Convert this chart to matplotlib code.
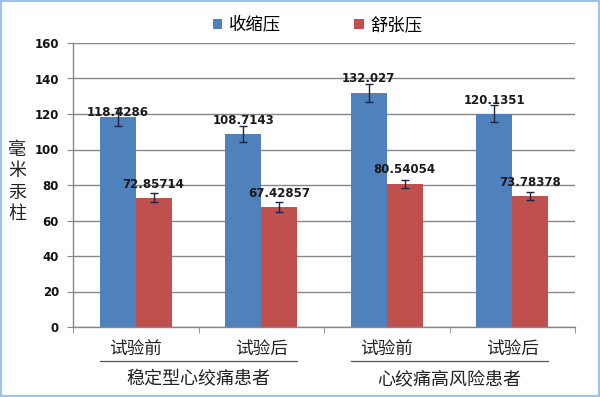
import matplotlib
matplotlib.use('Agg')
import matplotlib.pyplot as plt
import matplotlib.transforms as mtransforms
from matplotlib.patches import Patch, Rectangle
import numpy as np

# Data
categories = ['试验前', '试验后', '试验前', '试验后']
groups = ['稳定型心绞痛患者', '心绞痛高风险患者']
series_names = ['收缩压', '舒张压']
systolic = [118.4286, 108.7143, 132.027, 120.1351]
diastolic = [72.85714, 67.42857, 80.54054, 73.78378]
systolic_err = [5.0, 4.5, 5.0, 4.7]
diastolic_err = [2.7, 2.8, 2.3, 2.3]
systolic_labels = ['118.4286', '108.7143', '132.027', '120.1351']
diastolic_labels = ['72.85714', '67.42857', '80.54054', '73.78378']

# label offsets above the bar value (layout only)
sys_off = [2.6, 7.6, 7.7, 7.5]
dia_off = [7.7, 8.0, 8.0, 7.6]

cjk = ['Noto Sans CJK SC', 'DejaVu Sans']
blue = '#4F81BD'
red = '#C0504D'
grid_c = '#878787'

fig = plt.figure(figsize=(6.0, 3.97), dpi=100)
ax = fig.add_axes([73/600, 1-327/397, 502/600, 284/397])

x = np.arange(len(categories))
w = 0.2857
ax.bar(x - w/2, systolic, w, color=blue, zorder=2)
ax.bar(x + w/2, diastolic, w, color=red, zorder=2)
ax.errorbar(x - w/2, systolic, yerr=systolic_err, fmt='none', ecolor='#1B2440',
            elinewidth=1, capsize=3, capthick=1, zorder=3)
ax.errorbar(x + w/2, diastolic, yerr=diastolic_err, fmt='none', ecolor='#1B2440',
            elinewidth=1, capsize=3, capthick=1, zorder=3)

for i in range(len(categories)):
    ax.text(x[i] - w/2, systolic[i] + sys_off[i], systolic_labels[i], ha='center',
            va='center', fontsize=8.5, fontweight='bold', color='#1a1a1a',
            family='DejaVu Sans', zorder=4)
    ax.text(x[i] + w/2, diastolic[i] + dia_off[i], diastolic_labels[i], ha='center',
            va='center', fontsize=8.5, fontweight='bold', color='#1a1a1a',
            family='DejaVu Sans', zorder=4)

ax.set_xlim(-0.5, len(categories) - 0.5)
ax.set_ylim(0, 160)
ax.set_yticks(np.arange(0, 161, 20))
ax.yaxis.grid(True, color=grid_c, linewidth=1)
ax.set_axisbelow(True)
for lbl in ax.get_yticklabels():
    lbl.set_fontweight('bold')
    lbl.set_family('DejaVu Sans')
ax.tick_params(axis='y', labelsize=8.5, length=4, color=grid_c, pad=6, labelcolor='#111111')

ax.set_xticks(x)
ax.set_xticklabels(categories, family=cjk, fontsize=12.7, color='#222222')
ax.set_xticks(np.arange(-0.5, len(categories), 1), minor=True)
ax.tick_params(axis='x', which='major', length=0, pad=9)
ax.tick_params(axis='x', which='minor', length=4, color=grid_c)

for s in ['top', 'right']:
    ax.spines[s].set_visible(False)
for s in ['left', 'bottom']:
    ax.spines[s].set_color(grid_c)
    ax.spines[s].set_linewidth(1)

# group labels under the category labels
trans = mtransforms.blended_transform_factory(ax.transData, ax.transAxes)
for g, name in enumerate(groups):
    x0 = 2*g - w
    x1 = 2*g + 1 + w
    ax.plot([x0, x1], [-0.12, -0.12], color='#555555', linewidth=0.9,
            transform=trans, clip_on=False)
    ax.text((x0 + x1)/2, -0.185, name, transform=trans, ha='center', va='center',
            fontsize=13, family=cjk, color='#222222')

# y label, stacked characters
fig.text(17/600, 1-182/397, '\n'.join('毫米汞柱'), ha='center', va='center',
         fontsize=13, family=cjk, linespacing=1.25, color='#222222')

handles = [Patch(facecolor=blue), Patch(facecolor=red)]
fig.legend(handles, series_names, loc='center', bbox_to_anchor=(318/600, 1-25/397),
           ncol=2, frameon=False, prop={'family': cjk, 'size': 12.5},
           handlelength=0.55, handleheight=0.55, handletextpad=0.4, columnspacing=4.2)

fig.patches.append(Rectangle((0, 0), 1, 1, transform=fig.transFigure, fill=False,
                             edgecolor='#9DC3E6', linewidth=3, zorder=10))

plt.savefig('out.png', dpi=100)
